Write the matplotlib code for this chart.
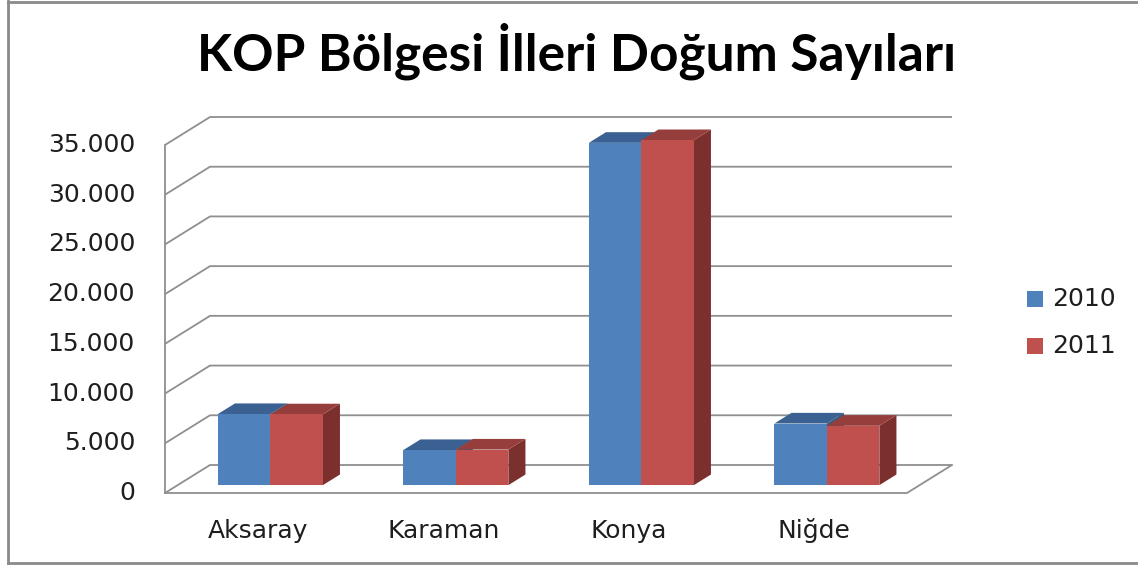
import matplotlib
matplotlib.use("Agg")
import matplotlib.pyplot as plt
from matplotlib.patches import Polygon, Rectangle
from matplotlib.lines import Line2D

# ---------------- data ----------------
title = "KOP Bölgesi İlleri Doğum Sayıları"
categories = ["Aksaray", "Karaman", "Konya", "Niğde"]
years = ["2010", "2011"]
births_2010 = [7150, 3530, 34430, 6200]
births_2011 = [7120, 3580, 34700, 5970]
y_ticks = [0, 5000, 10000, 15000, 20000, 25000, 30000, 35000]

# ---------------- style ----------------
front_colors = ["#4F81BD", "#C0504D"]
top_colors = ["#3B6192", "#953E3B"]
side_colors = ["#37597F", "#7B302E"]
grid_color = "#8F8F8F"
text_color = "#1E1E1E"
label_size = 18

W, H = 1138, 565
fig = plt.figure(figsize=(W / 100, H / 100), dpi=100)
ax = fig.add_axes([0, 0, 1, 1])

# pixel geometry of the front plane
px_left, px_right = 165, 907
py_zero, py_top = 493, 145
n = len(categories)
cat_px = (px_right - px_left) / n
ymax = y_ticks[-1]
val_px = (py_zero - py_top) / ymax
ax.set_xlim(-0.5 - px_left / cat_px, -0.5 + (W - px_left) / cat_px)
ax.set_ylim(-(H - py_zero) / val_px, py_zero / val_px)
ax.axis("off")

# depth vector (front plane -> back wall)
ddx = 45 / cat_px
ddy = 28 / val_px

# ---------------- walls and gridlines ----------------
glw = 1.3
x_l = -0.5
x_r = n - 0.5
for t in y_ticks:
    ax.plot([x_l, x_l + ddx, x_r + ddx], [t, t + ddy, t + ddy],
            color=grid_color, lw=glw, zorder=1, solid_capstyle="butt")
ax.plot([x_l, x_l], [0, ymax], color=grid_color, lw=glw, zorder=1)
ax.plot([x_l, x_r, x_r + ddx], [0, 0, ddy], color=grid_color, lw=glw, zorder=1)

# ---------------- 3D bars ----------------
bar_w = 52.5 / cat_px
f0, f1 = 0.28, 0.66
ox, oy = f0 * ddx, f0 * ddy
bx, by = (f1 - f0) * ddx, (f1 - f0) * ddy
series = [births_2010, births_2011]
z = 2
for ci in range(n):
    for si, vals in enumerate(series):
        v = vals[ci]
        x0 = ci - bar_w + si * bar_w + ox
        x1 = x0 + bar_w
        y0 = oy
        y1 = v + oy
        side = Polygon([(x1, y0), (x1 + bx, y0 + by), (x1 + bx, y1 + by), (x1, y1)],
                       closed=True, facecolor=side_colors[si], edgecolor="none", zorder=z)
        top = Polygon([(x0, y1), (x1, y1), (x1 + bx, y1 + by), (x0 + bx, y1 + by)],
                      closed=True, facecolor=top_colors[si], edgecolor="none", zorder=z + 1)
        front = Rectangle((x0, y0), bar_w, v, facecolor=front_colors[si],
                          edgecolor="none", zorder=z + 2)
        ax.add_patch(side)
        ax.add_patch(top)
        ax.add_patch(front)
        z += 3

# ---------------- axis labels ----------------
for t in y_ticks:
    lab = f"{t:,}".replace(",", ".")
    ax.text(x_l - 30 / cat_px, t, lab, ha="right", va="center",
            fontsize=label_size, color=text_color, family="DejaVu Sans")
for ci, c in enumerate(categories):
    ax.text(ci, -(538 - py_zero) / val_px, c, ha="center", va="baseline",
            fontsize=label_size, color=text_color, family="DejaVu Sans")

# ---------------- title ----------------
fig.text(577 / W, 1 - 70 / H, title, ha="center", va="baseline",
         fontsize=37, fontweight="bold", family="Lato", color="black")

# ---------------- legend ----------------
leg_y = [299, 346]
for si, name in enumerate(years):
    fig.add_artist(Rectangle((1027 / W, 1 - (leg_y[si] + 8) / H), 16 / W, 16 / H,
                             transform=fig.transFigure, facecolor=front_colors[si],
                             edgecolor="none"))
    fig.text(1052 / W, 1 - leg_y[si] / H, name, ha="left", va="center",
             fontsize=label_size, color=text_color, family="DejaVu Sans")

# ---------------- chart border ----------------
bc = "#8A8A8A"
fig.add_artist(Line2D([8 / W, 8 / W], [1 - 1 / H, 1 - 563 / H], transform=fig.transFigure,
                      color=bc, lw=2))
fig.add_artist(Line2D([8 / W, 1], [1 - 1.5 / H, 1 - 1.5 / H], transform=fig.transFigure,
                      color=bc, lw=2))
fig.add_artist(Line2D([8 / W, 1], [1 - 563 / H, 1 - 563 / H], transform=fig.transFigure,
                      color=bc, lw=2))

fig.savefig("out.png", dpi=100, facecolor="white")
